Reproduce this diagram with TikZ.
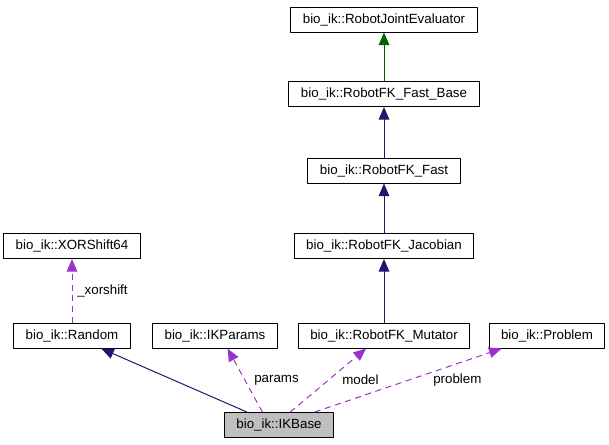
\documentclass[tikz,border=0pt]{standalone}
\usepackage{fontspec}
\setmainfont{Liberation Sans}
\usetikzlibrary{arrows.meta}
\definecolor{navyedge}{HTML}{191970}
\definecolor{greenedge}{HTML}{006400}
\definecolor{useedge}{HTML}{9A32CD}
\definecolor{thisbox}{HTML}{BFBFBF}
\begin{document}
\begin{tikzpicture}[x=.75pt, y=-.75pt, font=\fontsize{10}{12}\selectfont, line join=round,
		>={Triangle[length=9.5pt,width=8pt]},
		cls/.style={draw, line width=.75pt, fill=white, minimum height=18.75pt, inner xsep=9pt, inner ysep=0pt},
		inh/.style={->, line width=.75pt, color=navyedge},
		pub/.style={->, line width=.75pt, color=greenedge},
		use/.style={->, line width=.75pt, color=useedge, dash pattern=on 4.5pt off 3.5pt},
		lbl/.style={anchor=west, inner sep=0pt}]
	\useasboundingbox (0,0) rectangle (609,444);
	% klassen
	\node[cls] (rje) at (384,19.5) {bio\_ik::RobotJointEvaluator};
	\node[cls] (fkb) at (384,94) {bio\_ik::RobotFK\_Fast\_Base};
	\node[cls] (fk) at (384,170.5) {bio\_ik::RobotFK\_Fast};
	\node[cls] (jac) at (384,246) {bio\_ik::RobotFK\_Jacobian};
	\node[cls] (mut) at (384,335.5) {bio\_ik::RobotFK\_Mutator};
	\node[cls] (prob) at (547,335.5) {bio\_ik::Problem};
	\node[cls] (xor) at (72,246) {bio\_ik::XORShift64};
	\node[cls] (rand) at (72,335.5) {bio\_ik::Random};
	\node[cls] (par) at (215,335.5) {bio\_ik::IKParams};
	\node[cls, fill=thisbox] (ikb) at (279,425) {bio\_ik::IKBase};
	% vererbung
	\draw[pub] (fkb) -- (rje);
	\draw[inh] (fk) -- (fkb);
	\draw[inh] (jac) -- (fk);
	\draw[inh] (mut) -- (jac);
	\draw[inh] (ikb.158) -- (rand.-24);
	% member
	\draw[use] (rand) -- (xor);
	\draw[use] (ikb.142) -- (par.-46);
	\draw[use] (ikb.49) -- (mut.-144);
	\draw[use] (ikb.20) -- (prob.-164);
	\node[lbl] (lxor) at (77,291) {\_xorshift};
	\node[lbl] (lpar) at (254,380) {params};
	\node[lbl] (lmod) at (342,380) {model};
	\node[lbl] (lprob) at (433,380) {problem};
\end{tikzpicture}
\end{document}
